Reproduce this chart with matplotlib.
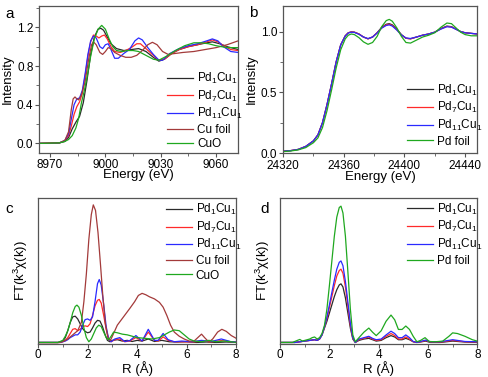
import matplotlib
matplotlib.use("Agg")
from matplotlib import pyplot as plt
from matplotlib.ticker import MultipleLocator

# ---- panel a: Cu K-edge XANES ----
e_a_pd1 = [8964, 8975, 8978, 8980, 8982, 8984, 8986, 8988, 8990, 8992,
           8994, 8996, 8997.5, 8999, 9001, 9003, 9006, 9010, 9014, 9018,
           9022, 9026, 9029, 9032, 9036, 9040, 9045, 9050, 9055, 9058,
           9062, 9066, 9072]
i_a_pd1 = [0, 0.005, 0.02, 0.06, 0.15, 0.22, 0.28, 0.42, 0.65, 0.92,
           1.10, 1.18, 1.19, 1.17, 1.10, 1.03, 0.98, 0.96, 0.97, 0.98,
           0.95, 0.89, 0.85, 0.87, 0.93, 0.97, 1.00, 1.02, 1.04, 1.05,
           1.03, 1.00, 0.97]
e_a_pd7 = [8964, 8975, 8978, 8980, 8981.5, 8983, 8984.5, 8986, 8987.5, 8989,
           8990.5, 8992, 8993.5, 8995, 8996.5, 8998, 8999.5, 9001, 9003, 9005,
           9008, 9011, 9014, 9017, 9019, 9022, 9026, 9029, 9032, 9036,
           9040, 9045, 9050, 9055, 9058, 9061, 9065, 9068, 9072]
i_a_pd7 = [0, 0.005, 0.03, 0.08, 0.18, 0.30, 0.38, 0.43, 0.52, 0.70,
           0.90, 1.05, 1.12, 1.11, 1.09, 1.11, 1.12, 1.08, 1.00, 0.95,
           0.94, 0.96, 0.99, 1.03, 1.03, 0.98, 0.91, 0.86, 0.87, 0.93,
           0.97, 1.00, 1.02, 1.05, 1.07, 1.05, 1.00, 0.97, 0.96]
e_a_pd11 = [8964, 8970, 8975, 8978, 8980, 8981.5, 8983, 8984.5, 8986, 8987.5,
            8989, 8990.5, 8992, 8993.5, 8995, 8997, 8998.5, 9000, 9001.5, 9003,
            9005, 9007, 9010, 9013, 9016, 9018, 9020, 9023, 9026, 9029,
            9031, 9035, 9040, 9045, 9050, 9055, 9058, 9061, 9064, 9068,
            9072]
i_a_pd11 = [0.0, 0.0, 0.005, 0.03, 0.10, 0.25, 0.40, 0.46, 0.47, 0.55,
            0.72, 0.92, 1.06, 1.11, 1.09, 1.00, 0.98, 1.02, 1.03, 0.97,
            0.88, 0.88, 0.93, 0.97, 1.06, 1.09, 1.07, 0.99, 0.92, 0.86,
            0.86, 0.93, 0.98, 1.01, 1.03, 1.06, 1.08, 1.06, 1.00, 0.95,
            0.94]
e_a_cufoil = [8964, 8975, 8978, 8980, 8981.5, 8982.5, 8983.5, 8984.5, 8985.5, 8987,
              8989, 8991, 8992.5, 8993.5, 8995, 8997, 8998.5, 9000, 9001.5, 9003,
              9005, 9008, 9011, 9014, 9017, 9020, 9023, 9025.5, 9028, 9031,
              9034, 9038, 9042, 9048, 9054, 9060, 9066, 9072]
i_a_cufoil = [0, 0.005, 0.03, 0.12, 0.35, 0.46, 0.48, 0.46, 0.45, 0.50,
              0.64, 0.88, 1.02, 1.05, 1.02, 0.94, 0.92, 0.95, 0.99, 0.98,
              0.94, 0.91, 0.89, 0.89, 0.91, 0.96, 1.02, 1.045, 1.02, 0.95,
              0.92, 0.93, 0.94, 0.95, 0.97, 0.99, 1.02, 1.06]
e_a_cuo = [8964, 8975, 8978, 8980, 8982, 8984, 8985.5, 8987, 8988.5, 8990,
           8992, 8994, 8996, 8998, 9000, 9002, 9004, 9006, 9009, 9012,
           9015, 9018, 9022, 9026, 9029, 9033, 9038, 9043, 9048, 9052,
           9056, 9060, 9066, 9072]
i_a_cuo = [0, 0.005, 0.02, 0.04, 0.08, 0.16, 0.26, 0.42, 0.54, 0.68,
           0.90, 1.08, 1.18, 1.22, 1.18, 1.08, 1.00, 0.96, 0.95, 0.96,
           0.96, 0.95, 0.91, 0.87, 0.86, 0.90, 0.96, 1.01, 1.04, 1.04,
           1.03, 1.01, 0.99, 0.99]

# ---- panel b: Pd K-edge XANES ----
e_b = [24320, 24325, 24330, 24335, 24340, 24343, 24346, 24349, 24352, 24355,
       24358, 24361, 24363, 24365, 24367, 24370, 24373, 24376, 24379, 24382,
       24385, 24388, 24390, 24392, 24395, 24398, 24401, 24404, 24408, 24412,
       24416, 24420, 24424, 24428, 24431, 24434, 24437, 24440, 24444, 24448]
i_b_pd1 = [0.015, 0.02, 0.03, 0.055, 0.10, 0.15, 0.25, 0.40, 0.57, 0.75,
           0.89, 0.965, 0.99, 0.997, 0.995, 0.98, 0.955, 0.94, 0.955, 0.99,
           1.035, 1.06, 1.065, 1.055, 1.02, 0.975, 0.945, 0.94, 0.955, 0.97,
           0.98, 0.995, 1.025, 1.045, 1.04, 1.02, 1.0, 0.99, 0.985, 0.98]
i_b_pd7 = [0.015, 0.02, 0.03, 0.055, 0.10, 0.15, 0.25, 0.40, 0.57, 0.75,
           0.89, 0.965, 0.99, 0.997, 0.995, 0.98, 0.955, 0.94, 0.955, 0.99,
           1.03, 1.055, 1.06, 1.05, 1.015, 0.972, 0.945, 0.94, 0.955, 0.97,
           0.98, 0.995, 1.022, 1.042, 1.038, 1.02, 1.0, 0.99, 0.985, 0.98]
i_b_pd11 = [0.015, 0.02, 0.03, 0.055, 0.10, 0.15, 0.25, 0.40, 0.57, 0.75,
            0.89, 0.963, 0.988, 0.995, 0.993, 0.978, 0.955, 0.942, 0.955, 0.988,
            1.028, 1.05, 1.055, 1.045, 1.012, 0.972, 0.947, 0.943, 0.955, 0.97,
            0.98, 0.995, 1.02, 1.04, 1.036, 1.018, 1.0, 0.99, 0.985, 0.98]
i_b_pdfoil = [0.012, 0.017, 0.026, 0.045, 0.085, 0.125, 0.21, 0.35, 0.52, 0.70,
              0.85, 0.94, 0.97, 0.98, 0.975, 0.95, 0.915, 0.895, 0.91, 0.96,
              1.04, 1.09, 1.10, 1.085, 1.03, 0.96, 0.91, 0.905, 0.93, 0.955,
              0.97, 0.99, 1.035, 1.07, 1.065, 1.03, 0.995, 0.975, 0.965, 0.965]

# ---- panel c: Cu K-edge FT-EXAFS ----
r_c_pd1 = [0, 0.8, 1.0, 1.1, 1.2, 1.3, 1.4, 1.5, 1.6, 1.7,
           1.8, 1.9, 2.0, 2.1, 2.2, 2.3, 2.4, 2.5, 2.6, 2.7,
           2.8, 2.9, 3.0, 3.2, 3.4, 3.6, 3.8, 4.0, 4.2, 4.45,
           4.7, 5.0, 5.3, 5.6, 6.0, 6.4, 6.8, 7.2, 7.6, 8.0]
ft_c_pd1 = [0.005, 0.005, 0.015, 0.04, 0.09, 0.15, 0.19, 0.195, 0.175, 0.14,
            0.105, 0.085, 0.075, 0.08, 0.11, 0.145, 0.165, 0.16, 0.12, 0.065,
            0.02, 0.01, 0.02, 0.025, 0.015, 0.02, 0.012, 0.02, 0.015, 0.03,
            0.012, 0.02, 0.01, 0.008, 0.01, 0.005, 0.008, 0.005, 0.008, 0.005]
r_c_pd = [0, 0.9, 1.1, 1.2, 1.3, 1.4, 1.5, 1.6, 1.7, 1.8,
          1.9, 2.0, 2.1, 2.2, 2.3, 2.4, 2.47, 2.55, 2.65, 2.75,
          2.85, 2.95, 3.1, 3.3, 3.5, 3.7, 3.95, 4.2, 4.45, 4.7,
          4.85, 5.05, 5.25, 5.5, 5.8, 6.2, 6.6, 7.0, 7.4, 7.8,
          8.0]
ft_c_pd7 = [0.005, 0.005, 0.02, 0.04, 0.07, 0.1, 0.105, 0.09, 0.1, 0.12,
            0.125, 0.12, 0.14, 0.2, 0.27, 0.31, 0.316, 0.29, 0.2, 0.1,
            0.03, 0.01, 0.025, 0.03, 0.01, 0.015, 0.04, 0.015, 0.08, 0.02,
            0.015, 0.045, 0.02, 0.01, 0.01, 0.008, 0.015, 0.01, 0.018, 0.01,
            0.008]
ft_c_pd11 = [0.005, 0.005, 0.015, 0.025, 0.04, 0.05, 0.06, 0.06, 0.08, 0.13,
             0.17, 0.175, 0.165, 0.19, 0.3, 0.43, 0.46, 0.42, 0.28, 0.12,
             0.03, 0.01, 0.03, 0.04, 0.012, 0.018, 0.055, 0.015, 0.10, 0.02,
             0.02, 0.07, 0.025, 0.01, 0.015, 0.01, 0.02, 0.012, 0.03, 0.01,
             0.008]
r_c_cufoil = [0, 0.8, 1.0, 1.2, 1.4, 1.6, 1.75, 1.85, 1.95, 2.05,
              2.15, 2.23, 2.32, 2.42, 2.52, 2.62, 2.72, 2.82, 2.92, 3.0,
              3.2, 3.45, 3.7, 3.9, 4.05, 4.2, 4.35, 4.5, 4.7, 4.9,
              5.05, 5.2, 5.35, 5.5, 5.7, 5.9, 6.1, 6.3, 6.45, 6.6,
              6.75, 6.9, 7.05, 7.25, 7.42, 7.6, 7.8, 8.0]
ft_c_cufoil = [0.003, 0.003, 0.01, 0.03, 0.06, 0.09, 0.15, 0.3, 0.5, 0.75,
               0.93, 1.0, 0.96, 0.8, 0.57, 0.33, 0.14, 0.04, 0.02, 0.05,
               0.13, 0.19, 0.25, 0.30, 0.345, 0.36, 0.35, 0.335, 0.32, 0.295,
               0.26, 0.2, 0.13, 0.08, 0.05, 0.03, 0.015, 0.015, 0.04, 0.065,
               0.035, 0.008, 0.03, 0.08, 0.10, 0.085, 0.055, 0.035]
r_c_cuo = [0, 0.8, 1.0, 1.1, 1.2, 1.3, 1.4, 1.5, 1.57, 1.65,
           1.75, 1.85, 1.95, 2.05, 2.15, 2.25, 2.35, 2.45, 2.55, 2.65,
           2.75, 2.85, 2.95, 3.05, 3.2, 3.4, 3.6, 3.8, 4.0, 4.3,
           4.6, 4.9, 5.1, 5.3, 5.5, 5.7, 5.9, 6.1, 6.3, 6.6,
           6.9, 7.2, 7.5, 7.8, 8.0]
ft_c_cuo = [0.005, 0.005, 0.02, 0.05, 0.09, 0.15, 0.22, 0.265, 0.275, 0.26,
            0.2, 0.11, 0.04, 0.01, 0.03, 0.07, 0.11, 0.13, 0.12, 0.08,
            0.04, 0.025, 0.05, 0.08, 0.075, 0.065, 0.06, 0.05, 0.04, 0.035,
            0.03, 0.04, 0.06, 0.08, 0.095, 0.09, 0.06, 0.03, 0.015, 0.01,
            0.02, 0.01, 0.015, 0.01, 0.005]

# ---- panel d: Pd K-edge FT-EXAFS ----
r_d = [0, 0.6, 0.8, 1.0, 1.2, 1.4, 1.5, 1.6, 1.7, 1.8,
       1.9, 2.0, 2.1, 2.2, 2.3, 2.4, 2.47, 2.55, 2.65, 2.75,
       2.85, 2.95, 3.05, 3.2, 3.4, 3.6, 3.75, 3.9, 4.1, 4.3,
       4.5, 4.65, 4.8, 4.95, 5.1, 5.25, 5.4, 5.55, 5.75, 5.9,
       6.1, 6.5, 7.0, 7.5, 8.0]
ft_d_pd1 = [0.005, 0.005, 0.01, 0.015, 0.02, 0.025, 0.02, 0.03, 0.06, 0.11,
            0.16, 0.22, 0.28, 0.34, 0.39, 0.425, 0.433, 0.41, 0.33, 0.22,
            0.11, 0.03, 0.005, 0.02, 0.03, 0.035, 0.025, 0.015, 0.02, 0.04,
            0.055, 0.045, 0.025, 0.025, 0.035, 0.025, 0.01, 0.005, 0.01, 0.015,
            0.005, 0.005, 0.015, 0.008, 0.005]
ft_d_pd7 = [0.005, 0.005, 0.01, 0.015, 0.02, 0.025, 0.02, 0.03, 0.06, 0.115,
            0.18, 0.26, 0.34, 0.42, 0.49, 0.53, 0.54, 0.51, 0.41, 0.27,
            0.13, 0.035, 0.005, 0.025, 0.035, 0.045, 0.03, 0.02, 0.025, 0.05,
            0.07, 0.055, 0.03, 0.03, 0.045, 0.03, 0.01, 0.005, 0.012, 0.02,
            0.008, 0.008, 0.02, 0.01, 0.008]
ft_d_pd11 = [0.005, 0.005, 0.01, 0.015, 0.02, 0.025, 0.02, 0.03, 0.06, 0.12,
             0.19, 0.28, 0.37, 0.46, 0.54, 0.59, 0.60, 0.565, 0.45, 0.30,
             0.145, 0.04, 0.005, 0.03, 0.04, 0.05, 0.035, 0.025, 0.03, 0.06,
             0.087, 0.07, 0.04, 0.04, 0.06, 0.04, 0.012, 0.005, 0.015, 0.022,
             0.01, 0.01, 0.025, 0.012, 0.01]
r_d_pdfoil = [0, 0.5, 0.7, 0.8, 0.9, 1.0, 1.1, 1.2, 1.3, 1.4,
              1.5, 1.6, 1.7, 1.8, 1.9, 2.0, 2.1, 2.2, 2.3, 2.4,
              2.47, 2.55, 2.65, 2.75, 2.85, 2.95, 3.05, 3.2, 3.4, 3.6,
              3.75, 3.9, 4.1, 4.3, 4.5, 4.65, 4.8, 4.95, 5.1, 5.25,
              5.4, 5.55, 5.7, 5.88, 6.05, 6.3, 6.6, 6.85, 7.0, 7.2,
              7.5, 7.8, 8.0]
ft_d_pdfoil = [0.005, 0.005, 0.02, 0.027, 0.015, 0.02, 0.025, 0.03, 0.04, 0.045,
               0.03, 0.04, 0.07, 0.13, 0.25, 0.42, 0.6, 0.78, 0.92, 0.99,
               1.0, 0.95, 0.78, 0.52, 0.25, 0.06, 0.01, 0.04, 0.08, 0.11,
               0.08, 0.055, 0.09, 0.16, 0.205, 0.17, 0.1, 0.1, 0.125, 0.1,
               0.05, 0.01, 0.02, 0.04, 0.012, 0.01, 0.015, 0.05, 0.075, 0.07,
               0.05, 0.025, 0.015]

lbl_pd1 = r'Pd$_1$Cu$_1$'
lbl_pd7 = r'Pd$_7$Cu$_1$'
lbl_pd11 = r'Pd$_{11}$Cu$_1$'

c_pd1 = '#2a2a2a'
c_pd7 = '#ff2a2a'
c_pd11 = '#2a2aff'
c_cufoil = '#a33a3a'
c_green = '#1fa81f'

plt.rcParams['font.family'] = ['Liberation Sans', 'DejaVu Sans']
plt.rcParams['mathtext.default'] = 'regular'
plt.rcParams['axes.edgecolor'] = '#555555'
plt.rcParams['axes.linewidth'] = 0.9


def style(ax, yticks=True):
    ax.tick_params(direction='out', length=3, width=0.8, labelsize=8.5,
                   pad=1, colors='#555555', labelcolor='black')
    ax.tick_params(which='minor', direction='out', length=2, width=0.6,
                   colors='#555555')
    if not yticks:
        ax.set_yticks([])


def legend(ax, x, y):
    ax.legend(loc='upper left', bbox_to_anchor=(x, y), frameon=False,
              fontsize=8.5, handlelength=2.2, handletextpad=0.3,
              labelspacing=0.22, borderaxespad=0, borderpad=0)


fig = plt.figure(figsize=(4.88, 3.77), dpi=100)

ax = fig.add_axes([0.080, 0.594, 0.408, 0.390])
ax.plot(e_a_pd1, i_a_pd1, color=c_pd1, lw=0.9, label=lbl_pd1)
ax.plot(e_a_pd7, i_a_pd7, color=c_pd7, lw=0.9, label=lbl_pd7)
ax.plot(e_a_pd11, i_a_pd11, color=c_pd11, lw=0.9, label=lbl_pd11)
ax.plot(e_a_cufoil, i_a_cufoil, color=c_cufoil, lw=0.9, label='Cu foil')
ax.plot(e_a_cuo, i_a_cuo, color=c_green, lw=0.9, label='CuO')
ax.set_xlim(8964, 9072)
ax.set_ylim(-0.1, 1.42)
ax.set_xticks([8970, 9000, 9030, 9060])
ax.xaxis.set_minor_locator(MultipleLocator(15))
ax.set_yticks([0.0, 0.4, 0.8, 1.2])
ax.yaxis.set_minor_locator(MultipleLocator(0.2))
ax.set_xlabel('Energy (eV)', fontsize=9.5, labelpad=-1)
ax.set_ylabel('Intensity', fontsize=9.5, labelpad=2)
style(ax)
legend(ax, 0.645, 0.56)

ax = fig.add_axes([0.580, 0.594, 0.398, 0.390])
ax.plot(e_b, i_b_pd1, color=c_pd1, lw=0.9, label=lbl_pd1)
ax.plot(e_b, i_b_pd7, color=c_pd7, lw=0.9, label=lbl_pd7)
ax.plot(e_b, i_b_pd11, color=c_pd11, lw=0.9, label=lbl_pd11)
ax.plot(e_b, i_b_pdfoil, color=c_green, lw=0.9, label='Pd foil')
ax.set_xlim(24320, 24448)
ax.set_ylim(0, 1.21)
ax.set_xticks([24320, 24360, 24400, 24440])
ax.xaxis.set_minor_locator(MultipleLocator(20))
ax.set_yticks([0.0, 0.5, 1.0])
ax.yaxis.set_minor_locator(MultipleLocator(0.25))
ax.set_xlabel('Energy (eV)', fontsize=9.5, labelpad=-0.5)
ax.set_ylabel('Intensity', fontsize=9.5, labelpad=2)
style(ax)
ax.tick_params(axis='x', pad=1.8)
legend(ax, 0.64, 0.48)

ax = fig.add_axes([0.078, 0.088, 0.406, 0.388])
ax.plot(r_c_pd1, ft_c_pd1, color=c_pd1, lw=0.9, label=lbl_pd1)
ax.plot(r_c_pd, ft_c_pd7, color=c_pd7, lw=0.9, label=lbl_pd7)
ax.plot(r_c_pd, ft_c_pd11, color=c_pd11, lw=0.9, label=lbl_pd11)
ax.plot(r_c_cufoil, ft_c_cufoil, color=c_cufoil, lw=0.9, label='Cu foil')
ax.plot(r_c_cuo, ft_c_cuo, color=c_green, lw=0.9, label='CuO')
ax.set_xlim(0, 8)
ax.set_ylim(-0.005, 1.053)
ax.set_xticks([0, 2, 4, 6, 8])
ax.xaxis.set_minor_locator(MultipleLocator(1))
ax.set_xlabel('R (Å)', fontsize=9.5, labelpad=0)
ax.set_ylabel('FT(k$^3$χ(k))', fontsize=9.5, labelpad=6)
style(ax, yticks=False)
legend(ax, 0.646, 0.97)

ax = fig.add_axes([0.574, 0.088, 0.404, 0.387])
ax.plot(r_d, ft_d_pd1, color=c_pd1, lw=0.9, label=lbl_pd1)
ax.plot(r_d, ft_d_pd7, color=c_pd7, lw=0.9, label=lbl_pd7)
ax.plot(r_d, ft_d_pd11, color=c_pd11, lw=0.9, label=lbl_pd11)
ax.plot(r_d_pdfoil, ft_d_pdfoil, color=c_green, lw=0.9, label='Pd foil')
ax.set_xlim(0, 8)
ax.set_ylim(-0.005, 1.06)
ax.set_xticks([0, 2, 4, 6, 8])
ax.xaxis.set_minor_locator(MultipleLocator(1))
ax.set_xlabel('R (Å)', fontsize=9.5, labelpad=0)
ax.set_ylabel('FT(k$^3$χ(k))', fontsize=9.5, labelpad=6)
style(ax, yticks=False)
legend(ax, 0.645, 0.975)

fig.text(0.012, 0.963, 'a', fontsize=11, va='center')
fig.text(0.510, 0.966, 'b', fontsize=11, va='center')
fig.text(0.012, 0.446, 'c', fontsize=11, va='center')
fig.text(0.533, 0.446, 'd', fontsize=11, va='center')

fig.savefig('out.png', dpi=100)
